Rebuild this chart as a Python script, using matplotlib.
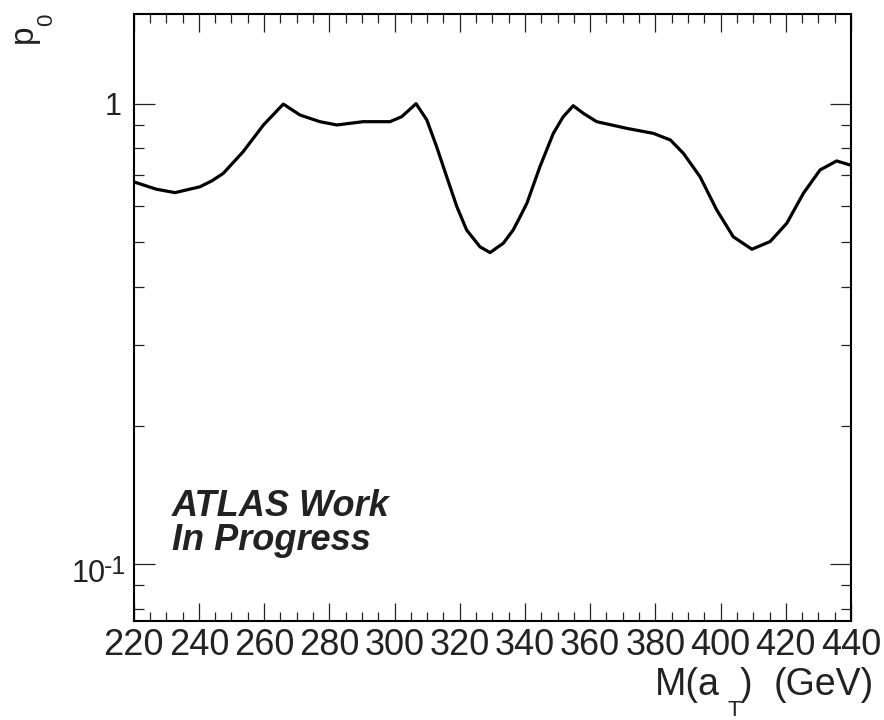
import matplotlib
matplotlib.use("Agg")
import matplotlib.pyplot as plt
from matplotlib.ticker import FixedLocator, FixedFormatter, NullFormatter

plt.rcParams['font.family'] = ['Liberation Sans', 'DejaVu Sans']

# p0 scan vs. mass
mass = [220.7, 227.0, 232.7, 240.3, 244.0, 247.5, 253.6, 259.8, 265.9,
        271.0, 277.1, 282.3, 290.4, 298.6, 302.2, 306.6, 309.9, 312.9,
        316.0, 319.1, 322.1, 326.2, 329.3, 333.4, 336.4, 338.5, 340.6,
        344.6, 348.7, 351.7, 354.8, 357.9, 362.0, 371.2, 379.4, 384.6,
        388.6, 393.7, 398.8, 403.9, 409.6, 415.2, 420.3, 425.4, 430.5,
        435.6, 439.7]
p0 = [0.674, 0.652, 0.641, 0.660, 0.680, 0.706, 0.787, 0.899, 0.998,
      0.945, 0.914, 0.899, 0.914, 0.914, 0.937, 1.000, 0.922, 0.807,
      0.694, 0.598, 0.532, 0.489, 0.475, 0.498, 0.532, 0.568, 0.608,
      0.730, 0.862, 0.936, 0.990, 0.953, 0.914, 0.884, 0.862, 0.834,
      0.780, 0.694, 0.588, 0.514, 0.483, 0.502, 0.550, 0.639, 0.718,
      0.751, 0.736]

x_major = list(range(220, 441, 20))
x_minor = list(range(220, 441, 5))
y_major = [0.1, 1.0]
y_major_labels = ['', '1']   # 10^-1 drawn by hand below (ROOT style hyphen)
y_minor = [0.08, 0.09, 0.2, 0.3, 0.4, 0.5, 0.6, 0.7, 0.8, 0.9]

W, H = 884, 720
ink = '#222222'
fig = plt.figure(figsize=(W / 100, H / 100), dpi=100)
ax = fig.add_axes([0.1512, 0.1375, 0.8115, 0.8431])

ax.plot(mass, p0, color='black', lw=2.3)

ax.set_yscale('log')
ax.set_xlim(220, 440)
ax.set_ylim(0.0753, 1.566)

ax.xaxis.set_major_locator(FixedLocator(x_major))
ax.xaxis.set_minor_locator(FixedLocator(x_minor))
ax.yaxis.set_major_locator(FixedLocator(y_major))
ax.yaxis.set_major_formatter(FixedFormatter(y_major_labels))
ax.yaxis.set_minor_locator(FixedLocator(y_minor))
ax.yaxis.set_minor_formatter(NullFormatter())

ax.tick_params(axis='both', which='both', direction='in', top=True, right=True,
               width=0.9, color=ink)
ax.tick_params(axis='x', which='major', length=13, labelsize=26, pad=5,
               labelcolor=ink)
ax.tick_params(axis='x', which='minor', length=6.5)
ax.tick_params(axis='y', which='major', length=15, labelsize=22, pad=9,
               labelcolor=ink)
ax.tick_params(axis='y', which='minor', length=7.2)
for s in ax.spines.values():
    s.set_linewidth(1.5)

def px(x, y):
    # pixel (from top-left) -> figure fraction
    return x / W, 1 - y / H

# 10^-1 label
fig.text(*px(106, 582), '10', ha='right', va='baseline', fontsize=22, color=ink)
fig.text(*px(104, 574), '-1', ha='left', va='baseline', fontsize=18, color=ink)

# x title: M(a_T) (GeV), ROOT style low subscript
fig.text(*px(655, 695), 'M(a', ha='left', va='baseline', fontsize=27, color=ink)
fig.text(*px(727, 716), 'T', ha='left', va='baseline', fontsize=16, color=ink)
fig.text(*px(740, 695), ')', ha='left', va='baseline', fontsize=27, color=ink)
fig.text(*px(874, 695), '(GeV)', ha='right', va='baseline', fontsize=27,
         color=ink)

# y title: p_0, rotated
fig.text(*px(32, 43), 'p', rotation=90, rotation_mode='anchor', ha='left',
         va='baseline', fontsize=24, color=ink)
fig.text(*px(52, 26), '0', rotation=90, rotation_mode='anchor', ha='left',
         va='baseline', fontsize=16, color=ink)

# label
fig.text(*px(172, 489), 'ATLAS Work\nIn Progress', ha='left', va='top',
         fontsize=26, fontweight='bold', fontstyle='italic', color=ink,
         linespacing=0.97)

fig.savefig('out.png', dpi=100)
